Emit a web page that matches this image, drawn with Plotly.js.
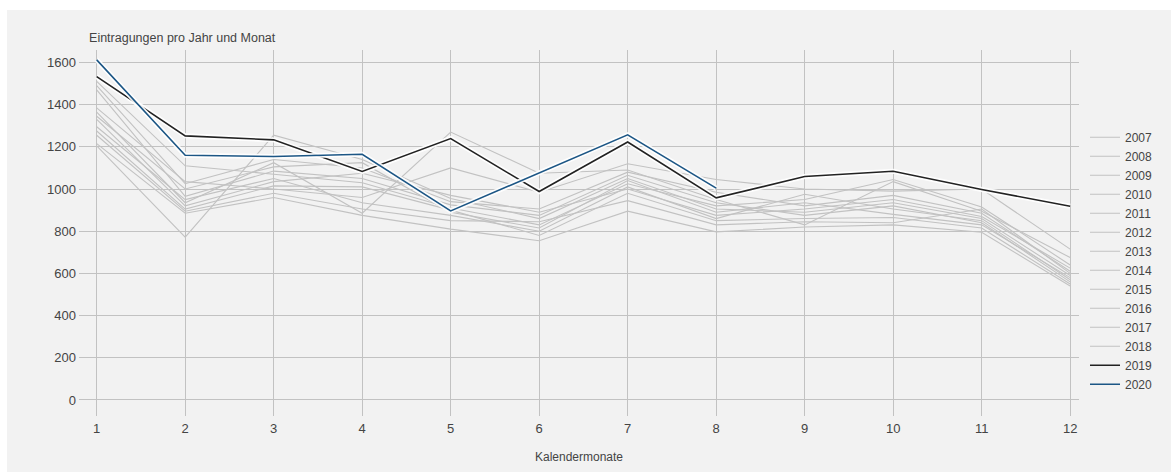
<!DOCTYPE html>
<html>
<head>
<meta charset="utf-8">
<script src="https://cdn.plot.ly/plotly-3.0.1.min.js"></script>
<style>
  html, body { margin: 0; padding: 0; background: #ffffff; }
  #chart { position: absolute; left: 7px; top: 10px; width: 1164px; height: 462px; }
</style>
</head>
<body>
<div id="chart"></div>
<script>
const months = [1, 2, 3, 4, 5, 6, 7, 8, 9, 10, 11, 12];
const years = ["2007","2008","2009","2010","2011","2012","2013","2014","2015","2016","2017","2018","2019","2020"];

const y2007 = [1205, 772, 1255, 1140, 955, 860, 1050, 905, 890, 935, 860, 590];
const y2008 = [1510, 1110, 1070, 1030, 910, 830, 1025, 920, 950, 1045, 915, 640];
const y2009 = [1490, 1025, 1140, 1100, 940, 905, 1080, 985, 920, 970, 885, 610];
const y2010 = [1470, 965, 1085, 1050, 925, 875, 1065, 935, 875, 920, 840, 560];
const y2011 = [1385, 1035, 1000, 960, 1100, 985, 1120, 1045, 1000, 990, 1000, 715];
const y2012 = [1365, 935, 1125, 885, 1270, 1075, 1090, 950, 830, 1035, 895, 675];
const y2013 = [1345, 1000, 1105, 1125, 890, 815, 1040, 890, 935, 880, 830, 580];
const y2014 = [1330, 920, 1035, 1075, 970, 890, 1000, 875, 905, 950, 870, 625];
const y2015 = [1295, 950, 1050, 935, 875, 800, 1010, 860, 975, 905, 850, 570];
const y2016 = [1275, 905, 1015, 1010, 900, 780, 980, 850, 860, 865, 815, 550];
const y2017 = [1255, 895, 980, 905, 850, 845, 945, 830, 845, 840, 905, 600];
const y2018 = [1215, 885, 960, 875, 810, 755, 895, 797, 820, 830, 795, 540];
const y2019 = [1533, 1252, 1233, 1083, 1239, 988, 1223, 958, 1059, 1084, 998, 918];
const y2020 = [1612, 1160, 1154, 1165, 896, 1077, 1257, 1004];

const grayYears = [y2007, y2008, y2009, y2010, y2011, y2012, y2013, y2014, y2015, y2016, y2017, y2018];

const traces = [];
grayYears.forEach((vals, i) => {
  traces.push({
    x: months.slice(0, vals.length), y: vals, type: 'scatter', mode: 'lines',
    name: years[i], line: { color: '#c2c2c2', width: 1.1 }, hoverinfo: 'skip'
  });
});
// white halo + 2019
traces.push({ x: months.slice(0, y2019.length), y: y2019, type: 'scatter', mode: 'lines',
  showlegend: false, line: { color: 'rgba(255,255,255,0.9)', width: 5 }, hoverinfo: 'skip' });
traces.push({ x: months.slice(0, y2019.length), y: y2019, type: 'scatter', mode: 'lines',
  name: '2019', line: { color: '#222222', width: 1.6 } });
// white halo + 2020
traces.push({ x: months.slice(0, y2020.length), y: y2020, type: 'scatter', mode: 'lines',
  showlegend: false, line: { color: 'rgba(255,255,255,0.9)', width: 5 }, hoverinfo: 'skip' });
traces.push({ x: months.slice(0, y2020.length), y: y2020, type: 'scatter', mode: 'lines',
  name: '2020', line: { color: '#1c5685', width: 1.6 } });

const layout = {
  width: 1164, height: 462,
  paper_bgcolor: '#f2f2f2', plot_bgcolor: '#f2f2f2',
  margin: { l: 72, r: 92, t: 40, b: 56 },
  font: { family: 'Liberation Sans, Arial, sans-serif', size: 13, color: '#444444' },
  title: { text: 'Eintragungen pro Jahr und Monat', xref: 'container', x: 0.0705, xanchor: 'left',
           yref: 'container', y: 0.94, yanchor: 'middle', font: { size: 12.5, color: '#444444' } },
  xaxis: {
    range: [0.8, 12.1], tickmode: 'array', tickvals: months, ticktext: months.map(String),
    showgrid: true, gridcolor: '#c2c2c2', gridwidth: 1, zeroline: false, showline: false,
    ticks: '', ticklabelstandoff: 3, tickfont: { size: 13 },
    title: { text: 'Kalendermonate', standoff: 17, font: { size: 12, color: '#444444' } }
  },
  yaxis: {
    range: [-76, 1659], tickmode: 'array', tickvals: [0, 200, 400, 600, 800, 1000, 1200, 1400, 1600],
    showgrid: true, gridcolor: '#c2c2c2', gridwidth: 1, zeroline: false, showline: false, ticks: '',
    tickfont: { size: 13 }, ticklabelstandoff: 2
  },
  legend: { x: 1.006, xanchor: 'left', y: 0.424, yanchor: 'middle', bgcolor: 'rgba(0,0,0,0)',
            font: { size: 12, color: '#444444' }, traceorder: 'normal', tracegroupgap: 0 },
  showlegend: true
};

Plotly.newPlot('chart', traces, layout, { displayModeBar: false, staticPlot: true });
</script>
</body>
</html>
